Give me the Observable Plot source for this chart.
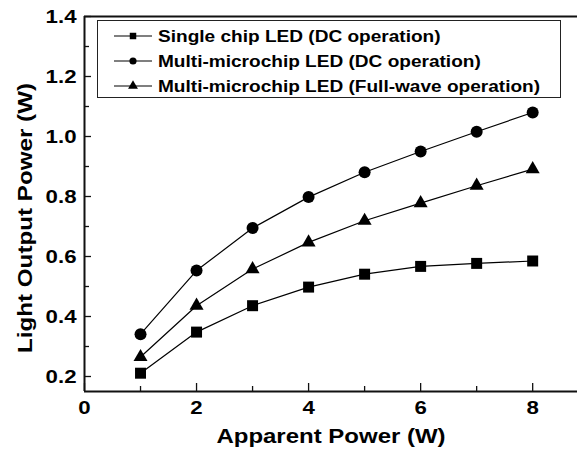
<!DOCTYPE html>
<html>
<head>
<meta charset="utf-8">
<script src="https://cdn.jsdelivr.net/npm/d3@7"></script>
<script src="https://cdn.jsdelivr.net/npm/@observablehq/plot@0.6"></script>
<style>
  html, body { margin: 0; padding: 0; background: #fff; }
  #chart { position: relative; width: 577px; height: 453px; font-family: "Liberation Sans", Arial, sans-serif; overflow: hidden; }
  #chart svg { display: block; }
  .legend {
    position: absolute; left: 97px; top: 20px; width: 464px; height: 78px;
    border: 1px solid #222; box-sizing: border-box; background: #fff;
  }
  .legend .row { position: absolute; left: 15px; height: 20px; display: flex; align-items: center; }
  .legend .row span {
    display: inline-block; font-weight: bold; font-size: 16.3px; color: #000; margin-left: 5px; white-space: nowrap;
    transform: scaleX(1.17); transform-origin: left center;
  }
  .ylabel {
    position: absolute; left: 25px; top: 218px; transform: translate(-50%, -50%) rotate(-90deg) scaleX(1.18);
    font-weight: bold; font-size: 20.5px; white-space: nowrap; color: #000;
  }
</style>
</head>
<body>
<div id="chart"></div>
<script>
// Apparent input power (W)
const apparentPower = [1, 2, 3, 4, 5, 6, 7, 8];

// Light output power (W) for each LED configuration
const singleChipDC = [0.211, 0.348, 0.436, 0.498, 0.541, 0.567, 0.577, 0.585];
const multiChipDC = [0.341, 0.553, 0.695, 0.798, 0.881, 0.950, 1.016, 1.080];
const multiChipFullWave = [0.265, 0.436, 0.558, 0.647, 0.719, 0.778, 0.836, 0.891];

const seriesNames = [
  "Single chip LED (DC operation)",
  "Multi-microchip LED (DC operation)",
  "Multi-microchip LED (Full-wave operation)"
];
const seriesSymbols = ["square", "circle", "triangle"];
const seriesSizes = [6.2, 6, 5.2];

const xTicks = [0, 2, 4, 6, 8];
const xMinorTicks = [1, 3, 5, 7];
const yTicks = [0.2, 0.4, 0.6, 0.8, 1.0, 1.2, 1.4];
const yMinorTicks = [0.3, 0.5, 0.7, 0.9, 1.1, 1.3];

const seriesValues = [singleChipDC, multiChipDC, multiChipFullWave];
const rows = seriesValues.flatMap((vals, i) =>
  vals.map((v, j) => ({series: seriesNames[i], x: apparentPower[j], y: v, symbol: seriesSymbols[i], r: seriesSizes[i]}))
);

const W = 577, H = 453;
const mL = 84, mT = 16, mR = 0, mB = 62;
const innerW = W - mL - mR, innerH = H - mT - mB;

const marks = [
  // inward ticks along the bottom axis
  Plot.tickX(xTicks, {x: d => d, stroke: "#111", strokeWidth: 1.3, insetTop: innerH - 8}),
  Plot.tickX(xMinorTicks, {x: d => d, stroke: "#111", strokeWidth: 1.3, insetTop: innerH - 5}),
  // inward ticks along the left axis
  Plot.tickY(yTicks, {y: d => d, stroke: "#111", strokeWidth: 1.3, insetRight: innerW - 7}),
  Plot.tickY(yMinorTicks, {y: d => d, stroke: "#111", strokeWidth: 1.3, insetRight: innerW - 5}),
  Plot.axisX({ticks: xTicks, tickSize: 0, tickPadding: 9, fontSize: 19, fontWeight: "bold", label: null}),
  Plot.axisY({ticks: yTicks, tickSize: 0, tickPadding: 8, fontSize: 19, fontWeight: "bold", label: null, tickFormat: d3.format(".1f")}),
  // frame: left, bottom and top edges
  Plot.ruleX([0], {stroke: "#111", strokeWidth: 2}),
  Plot.ruleY([0.15], {stroke: "#111", strokeWidth: 2}),
  Plot.ruleY([1.4], {stroke: "#111", strokeWidth: 2}),
  Plot.line(rows, {x: "x", y: "y", z: "series", stroke: "#000", strokeWidth: 1.2}),
  Plot.dot(rows, {x: "x", y: "y", symbol: "symbol", r: "r", fill: "#000", stroke: "none"}),
  Plot.text(["Apparent Power (W)"], {frameAnchor: "bottom", dy: 51, fontSize: 20.5, fontWeight: "bold", fill: "#000"})
];

const plot = Plot.plot({
  width: W, height: H,
  marginLeft: mL, marginTop: mT, marginRight: mR, marginBottom: mB,
  style: {fontFamily: "'Liberation Sans', Arial, sans-serif", color: "#000", background: "#fff", overflow: "visible"},
  x: {domain: [0, 8.8]},
  y: {domain: [0.15, 1.4]},
  symbol: {type: "identity"},
  r: {type: "identity"},
  marks
});

const chart = document.getElementById("chart");
chart.appendChild(plot);

// widen the bold lettering slightly, keeping each label's anchor
plot.querySelectorAll("text").forEach(t => {
  const len = t.getComputedTextLength();
  if (len > 0) {
    t.setAttribute("textLength", (len * 1.17).toFixed(2));
    t.setAttribute("lengthAdjust", "spacingAndGlyphs");
  }
});

// axis title for the vertical axis
const yl = document.createElement("div");
yl.className = "ylabel";
yl.textContent = "Light Output Power (W)";
chart.appendChild(yl);

// legend box
const legend = document.createElement("div");
legend.className = "legend";
const symbolPaths = {
  square: d3.symbol(d3.symbolSquare, 42)(),
  circle: d3.symbol(d3.symbolCircle, 40)(),
  triangle: d3.symbol(d3.symbolTriangle, 42)()
};
seriesNames.forEach((name, i) => {
  const row = document.createElement("div");
  row.className = "row";
  row.style.top = (5 + i * 25) + "px";
  row.innerHTML =
    `<svg width="40" height="20" viewBox="0 0 40 20"><line x1="1" x2="39" y1="10" y2="10" stroke="#000" stroke-width="1.2"/>` +
    `<path d="${symbolPaths[seriesSymbols[i]]}" transform="translate(20,10)" fill="#000"/></svg><span>${name}</span>`;
  legend.appendChild(row);
});
chart.appendChild(legend);
</script>
</body>
</html>
